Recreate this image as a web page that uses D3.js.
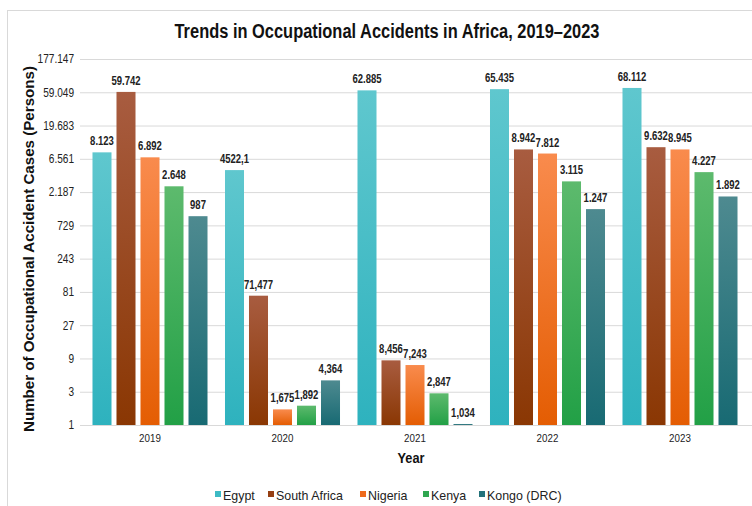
<!DOCTYPE html>
<html><head><meta charset="utf-8">
<script src="https://cdn.jsdelivr.net/npm/d3@7"></script>
<style>
body{margin:0;background:#fff;}
svg{display:block;font-family:"Liberation Sans",Arial,sans-serif;}
</style></head>
<body><svg id="c" width="752" height="506"></svg>
<script>
const years = ["2019","2020","2021","2022","2023"];
const seriesNames = ["Egypt","South Africa","Nigeria","Kenya","Kongo (DRC)"];
const egypt = [8123, 4522.1, 62885, 65435, 68112];
const southAfrica = [59742, 71.477, 8.456, 8942, 9632];
const nigeria = [6892, 1.675, 7.243, 7812, 8945];
const kenya = [2648, 1.892, 2.847, 3115, 4227];
const kongo = [987, 4.364, 1.034, 1247, 1892];
const egyptLabels = ["8.123","4522,1","62.885","65.435","68.112"];
const southAfricaLabels = ["59.742","71,477","8,456","8.942","9.632"];
const nigeriaLabels = ["6.892","1,675","7,243","7.812","8.945"];
const kenyaLabels = ["2.648","1,892","2,847","3.115","4.227"];
const kongoLabels = ["987","4,364","1,034","1.247","1.892"];
const yTicks = [1,3,9,27,81,243,729,2187,6561,19683,59049,177147];

const colorsTop = ["#5fc7ce","#a85c40","#f98b4d","#5dba6d","#4e8a90"];
const colorsBottom = ["#2eb2be","#8a3703","#e45d03","#22a046","#186a73"];
const legendColors = ["#3dbac4","#963f12","#ee6a1a","#2fa650","#23727a"];

const values = [egypt, southAfrica, nigeria, kenya, kongo];
const labels = [egyptLabels, southAfricaLabels, nigeriaLabels, kenyaLabels, kongoLabels];

const svg = d3.select("#c");
const W = 752, H = 506;
const loc = d3.formatLocale({decimal:",", thousands:".", grouping:[3], currency:["",""]});
const fmt = loc.format(",d");

function narrow(sel, f){
  sel.each(function(){
    const w = this.getComputedTextLength();
    d3.select(this).attr("textLength", w*f).attr("lengthAdjust","spacingAndGlyphs");
  });
}

// frame
svg.append("rect").attr("x",7.5).attr("y",10.5).attr("width",W+20).attr("height",H+20)
  .attr("fill","none").attr("stroke","#d9d9d9");

const x0 = d3.scaleBand().domain(years).range([83.75, 746.25]).paddingInner(0.0566).paddingOuter(0.0283);
const x1 = d3.scaleBand().domain(seriesNames).range([0, x0.bandwidth()]).padding(0.208);
const y = d3.scaleLog().base(3).domain([1,177147]).range([425, 59]);

const defs = svg.append("defs");
seriesNames.forEach((s,i)=>{
  const g = defs.append("linearGradient").attr("id","g"+i).attr("x1",0).attr("y1",0).attr("x2",0).attr("y2",1);
  g.append("stop").attr("offset","0%").attr("stop-color",colorsTop[i]);
  g.append("stop").attr("offset","100%").attr("stop-color",colorsBottom[i]);
});

// gridlines + y ticks
const yAxis = d3.axisLeft(y).tickValues(yTicks).tickFormat(d=>fmt(d)).tickSize(-(W-80)).tickPadding(8);
const ga = svg.append("g").attr("transform",`translate(80,0)`).call(yAxis);
ga.select(".domain").remove();
ga.selectAll(".tick line").attr("stroke","#d9d9d9");
ga.selectAll(".tick text").attr("font-family","Liberation Sans, Arial, sans-serif").attr("font-size",12).attr("fill","#222").attr("x",-6);
narrow(ga.selectAll(".tick text"), 0.84);

// title
const title = svg.append("text").attr("x",387).attr("y",38).attr("text-anchor","middle")
  .attr("font-size",19.5).attr("font-weight","bold").attr("fill","#111")
  .text("Trends in Occupational Accidents in Africa, 2019–2023");
title.attr("textLength",425).attr("lengthAdjust","spacingAndGlyphs");

// bars
const groups = svg.append("g").selectAll("g").data(years).join("g")
  .attr("transform",d=>`translate(${x0(d)},0)`);
groups.each(function(yr, yi){
  const g = d3.select(this);
  seriesNames.forEach((s,si)=>{
    const v = values[si][yi];
    g.append("rect").attr("x",x1(s)).attr("y",y(v)).attr("width",x1.bandwidth())
      .attr("height",y(1)-y(v)).attr("fill",`url(#g${si})`);
    const t = g.append("text").attr("x",x1(s)+x1.bandwidth()/2).attr("y",y(v)-7)
      .attr("text-anchor","middle").attr("font-size",12.5).attr("font-weight","bold").attr("fill","#222")
      .text(labels[si][yi]);
    narrow(t, 0.76);
  });
});

// x axis
const xa = svg.append("g").attr("transform",`translate(0,425)`).call(d3.axisBottom(x0).tickSize(0).tickPadding(9));
xa.select(".domain").attr("stroke","#d9d9d9").attr("d",`M80,0.5H${W}`);
xa.selectAll(".tick text").attr("font-family","Liberation Sans, Arial, sans-serif").attr("font-size",11.5).attr("fill","#222");
narrow(xa.selectAll(".tick text"), 0.85);

// axis titles
const yt = svg.append("text").attr("x",411).attr("y",463).attr("text-anchor","middle")
  .attr("font-size",15).attr("font-weight","bold").attr("fill","#111").text("Year");
narrow(yt, 0.85);
svg.append("text").attr("transform","translate(34,249) rotate(-90)").attr("text-anchor","middle")
  .attr("font-size",14).attr("font-weight","bold").attr("fill","#111")
  .attr("textLength",366).attr("lengthAdjust","spacingAndGlyphs")
  .text("Number of Occupational Accident Cases (Persons)");

// legend
const legX = [215, 268, 360, 423, 479];
seriesNames.forEach((s,i)=>{
  svg.append("rect").attr("x",legX[i]).attr("y",491).attr("width",6).attr("height",6).attr("fill",legendColors[i]);
  const t = svg.append("text").attr("x",legX[i]+8).attr("y",499.5)
    .attr("font-size",13.5).attr("fill","#222").text(s);
  narrow(t, 0.92);
});
</script></body></html>
